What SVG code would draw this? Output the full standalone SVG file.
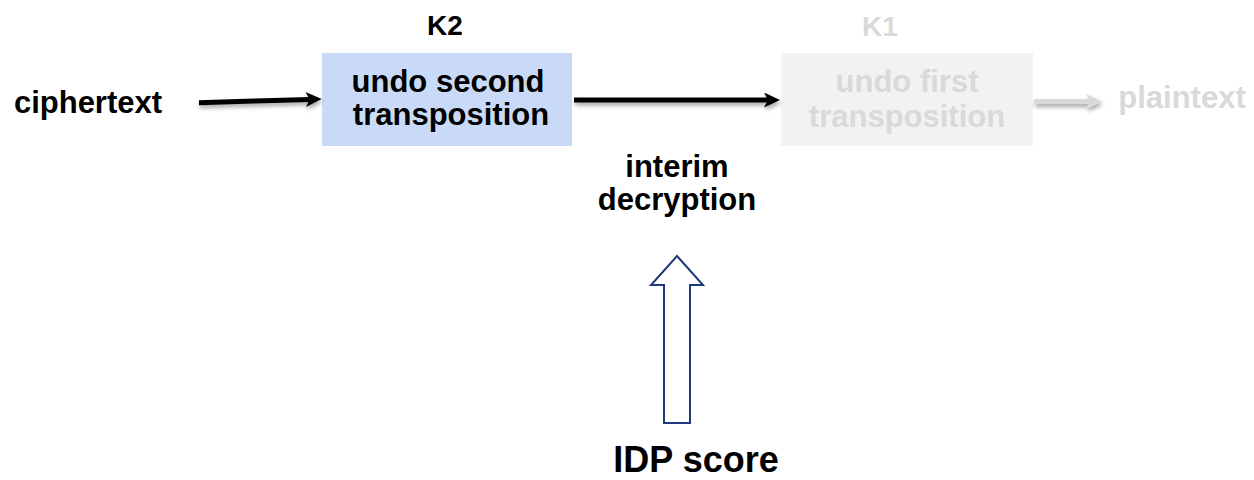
<svg xmlns="http://www.w3.org/2000/svg" width="1254" height="480" viewBox="0 0 1254 480">
<defs>
<style>
text{font-family:"Liberation Sans",Arial,sans-serif;font-weight:bold;text-anchor:middle}
.dk{fill:#000}
.lt{fill:#d9d9d9}
.big{font-size:31px}
.key{font-size:28px}
</style>
<filter id="sh" filterUnits="userSpaceOnUse" x="0" y="0" width="1254" height="480">
<feDropShadow dx="1" dy="3" stdDeviation="2" flood-color="#000" flood-opacity="0.35"/>
</filter>
<marker id="ah" markerUnits="userSpaceOnUse" markerWidth="16" markerHeight="15" refX="4" refY="7.5" orient="auto">
<path d="M0,0 L16,7.5 L0,15 L4,7.5 z" fill="#000"/>
</marker>
<marker id="ahg" markerUnits="userSpaceOnUse" markerWidth="16" markerHeight="15" refX="4" refY="7.5" orient="auto">
<path d="M0,0 L16,7.5 L0,15 L4,7.5 z" fill="#d9d9d9"/>
</marker>
</defs>
<rect width="1254" height="480" fill="#fff"/>
<g id="ciphertext"><text class="dk big" x="88" y="113">ciphertext</text></g>
<g id="k2">
<text class="dk key" x="445" y="35">K2</text>
<rect x="322" y="53" width="250" height="93" fill="#c9daf8"/>
<text class="dk big" x="448" y="92">undo second</text>
<text class="dk big" x="451" y="125">transposition</text>
</g>
<g id="k1">
<text class="lt key" x="880" y="36">K1</text>
<rect x="781" y="53" width="252" height="93" fill="#f2f2f2"/>
<text class="lt big" x="907" y="92">undo first</text>
<text class="lt big" x="907" y="127">transposition</text>
</g>
<g id="plaintext"><text class="lt big" x="1182" y="108">plaintext</text></g>
<g id="interim">
<text class="dk big" x="677" y="177">interim</text>
<text class="dk big" x="677" y="210">decryption</text>
</g>
<g id="idp">
<polygon points="677,256 703,285 690,285 690,423 664,423 664,285 651,285" fill="#fff" stroke="#1f3a7a" stroke-width="2"/>
<text class="dk" x="696" y="472" style="font-size:36px">IDP score</text>
</g>
<g id="connectors">
<line x1="199" y1="102.7" x2="309.7" y2="99.4" stroke="#000" stroke-width="5" marker-end="url(#ah)" filter="url(#sh)"/>
<line x1="574" y1="100" x2="768" y2="100" stroke="#000" stroke-width="5" marker-end="url(#ah)" filter="url(#sh)"/>
<line x1="1034" y1="101.5" x2="1090" y2="101.5" stroke="#d9d9d9" stroke-width="5" marker-end="url(#ahg)" filter="url(#sh)"/>
</g>
</svg>
